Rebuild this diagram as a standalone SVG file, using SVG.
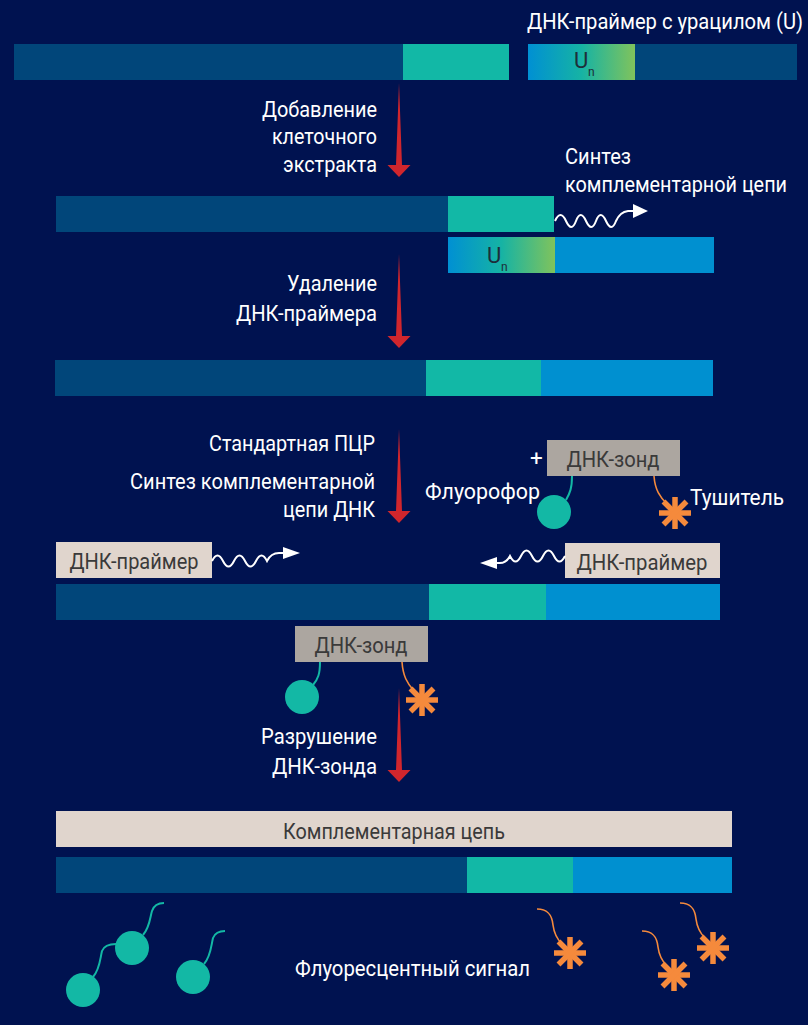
<svg xmlns="http://www.w3.org/2000/svg" width="808" height="1025" viewBox="0 0 808 1025">
<defs>
<style>
.t{font-family:Roboto,"Liberation Sans",sans-serif;font-size:22.5px;fill:#ffffff}
.bt{font-family:Roboto,"Liberation Sans",sans-serif;font-size:22px;fill:#3a3a3a}
.dk{fill:#01467a}
.tl{fill:#12b8a6}
.bl{fill:#0090d0}
.probe{fill:#aca6a0}
.prim{fill:#e0d5cd}
.wave{fill:none;stroke:#ffffff;stroke-width:2}
.ah{fill:#ffffff}
.arrow{fill:#d0262d}
.fl{fill:#13b8a5}
.fline{fill:none;stroke:#13b8a5;stroke-width:2}
.qline{fill:none;stroke:#f58a3c;stroke-width:1.6}
.u{font-family:Roboto,"Liberation Sans",sans-serif;fill:#1d2e3a}
</style>
<linearGradient id="ug" x1="0" y1="0" x2="1" y2="0">
<stop offset="0" stop-color="#0090d3"/>
<stop offset="0.5" stop-color="#16b3a4"/>
<stop offset="1" stop-color="#80c35c"/>
</linearGradient>
<path id="rarrow" d="M0,0 L3,82 L11.5,82 L0,94 L-11.5,82 L-3,82 Z"/>
<g id="ast" stroke="#f58a3c" stroke-width="5.5">
<line x1="0" y1="-16" x2="0" y2="16"/>
<line x1="-16" y1="0" x2="16" y2="0"/>
<line x1="-11.5" y1="-11.5" x2="11.5" y2="11.5"/>
<line x1="-11.5" y1="11.5" x2="11.5" y2="-11.5"/>
</g>
</defs>
<rect x="0" y="0" width="808" height="1025" fill="#001250"/>

<!-- Row 1 -->
<g id="dna1">
<rect class="dk" x="14" y="44" width="389" height="36"/>
<rect class="tl" x="403" y="44" width="106" height="36"/>
</g>
<g id="primerU">
<text class="t" x="0" y="0" transform="translate(527,29) scale(1,1.15)" style="font-size:19.5px" textLength="276" lengthAdjust="spacingAndGlyphs">ДНК-праймер с урацилом (U)</text>
<rect fill="url(#ug)" x="528" y="44" width="107" height="36"/>
<rect class="dk" x="635" y="44" width="162" height="36"/>
<text class="u" x="574" y="68" font-size="22">U</text>
<text class="u" x="588" y="76" font-size="12">n</text>
</g>

<g id="step1">
<use href="#rarrow" class="arrow" x="399" y="83"/>
<text class="t" x="377" y="117" text-anchor="end" textLength="115" lengthAdjust="spacingAndGlyphs">Добавление</text>
<text class="t" x="377" y="143.5" text-anchor="end" textLength="105" lengthAdjust="spacingAndGlyphs">клеточного</text>
<text class="t" x="377" y="171.5" text-anchor="end" textLength="94" lengthAdjust="spacingAndGlyphs">экстракта</text>
</g>

<!-- Row 2 -->
<g id="dna2">
<rect class="dk" x="56" y="196" width="392" height="36"/>
<rect class="tl" x="448" y="196" width="106" height="36"/>
</g>
<g id="synth1">
<text class="t" x="565" y="164" textLength="66" lengthAdjust="spacingAndGlyphs">Синтез</text>
<text class="t" x="0" y="0" transform="translate(565,192) scale(1,1.1)" style="font-size:20.5px" textLength="222" lengthAdjust="spacingAndGlyphs">комплементарной цепи</text>
</g>
<g id="primer2">
<rect fill="url(#ug)" x="448" y="237" width="107" height="36"/>
<rect class="bl" x="555" y="237" width="159" height="36"/>
<text class="u" x="487" y="263" font-size="22">U</text>
<text class="u" x="501" y="271" font-size="12">n</text>
</g>

<g id="step2">
<use href="#rarrow" class="arrow" x="399" y="254"/>
<text class="t" x="377" y="291" text-anchor="end" textLength="90" lengthAdjust="spacingAndGlyphs">Удаление</text>
<text class="t" x="377" y="321" text-anchor="end" textLength="141" lengthAdjust="spacingAndGlyphs">ДНК-праймера</text>
</g>

<!-- Row 3 -->
<g id="dna3">
<rect class="dk" x="55" y="360" width="371" height="36"/>
<rect class="tl" x="426" y="360" width="115" height="36"/>
<rect class="bl" x="541" y="360" width="172" height="36"/>
</g>

<g id="step3">
<use href="#rarrow" class="arrow" x="399" y="429"/>
<text class="t" x="375" y="451" text-anchor="end" textLength="166" lengthAdjust="spacingAndGlyphs">Стандартная ПЦР</text>
<text class="t" x="375" y="489" text-anchor="end" textLength="245" lengthAdjust="spacingAndGlyphs">Синтез комплементарной</text>
<text class="t" x="375" y="517" text-anchor="end" textLength="92" lengthAdjust="spacingAndGlyphs">цепи ДНК</text>
</g>

<g id="probe1">
<text class="t" x="530" y="466">+</text>
<rect class="probe" x="547" y="440" width="133" height="36"/>
<text class="bt" x="613" y="467" text-anchor="middle" textLength="93" lengthAdjust="spacingAndGlyphs">ДНК-зонд</text>
<path class="fline" d="M572,476 C572,488 570,493 566,500"/>
<circle class="fl" cx="554" cy="512" r="17"/>
<path class="qline" d="M654,476 C655,490 660,497 667,504"/>
<use href="#ast" x="675" y="513"/>
<text class="t" x="425" y="499" textLength="115" lengthAdjust="spacingAndGlyphs">Флуорофор</text>
<text class="t" x="690" y="505" textLength="94" lengthAdjust="spacingAndGlyphs">Тушитель</text>
</g>

<!-- Row 4 -->
<g id="primerL">
<rect class="prim" x="56" y="542" width="156" height="36"/>
<text class="bt" x="134" y="569" text-anchor="middle" textLength="129" lengthAdjust="spacingAndGlyphs">ДНК-праймер</text>
</g>
<g id="primerR">
<rect class="prim" x="565" y="543" width="155" height="35"/>
<text class="bt" x="642" y="570" text-anchor="middle" textLength="131" lengthAdjust="spacingAndGlyphs">ДНК-праймер</text>
</g>
<g id="dna4">
<rect class="dk" x="56" y="584" width="373" height="36"/>
<rect class="tl" x="429" y="584" width="117" height="36"/>
<rect class="bl" x="546" y="584" width="174" height="36"/>
</g>

<g id="probe2">
<rect class="probe" x="295" y="626" width="133" height="36"/>
<text class="bt" x="361" y="653" text-anchor="middle" textLength="93" lengthAdjust="spacingAndGlyphs">ДНК-зонд</text>
<path class="fline" d="M320,662 C320,674 318,679 313,685"/>
<circle class="fl" cx="302" cy="697" r="17"/>
</g>

<g id="step4">
<use href="#rarrow" class="arrow" x="399" y="688"/>
<text class="t" x="377" y="744" text-anchor="end" textLength="116" lengthAdjust="spacingAndGlyphs">Разрушение</text>
<text class="t" x="377" y="774" text-anchor="end" textLength="105" lengthAdjust="spacingAndGlyphs">ДНК-зонда</text>
</g>
<g id="quencher2">
<path class="qline" d="M402,662 C403,676 407,683 414,691"/>
<use href="#ast" x="422" y="700"/>
</g>

<!-- Row 5 -->
<g id="compl">
<rect class="prim" x="56" y="811" width="676" height="36"/>
<text class="bt" x="394" y="839" text-anchor="middle" textLength="222" lengthAdjust="spacingAndGlyphs">Комплементарная цепь</text>
</g>
<g id="dna5">
<rect class="dk" x="56" y="857" width="411" height="36"/>
<rect class="tl" x="467" y="857" width="106" height="36"/>
<rect class="bl" x="573" y="857" width="159" height="36"/>
</g>

<g id="signal">
<path class="fline" d="M143,935 C150,927 150,917 152,911 C154,905 158,903 164,903"/>
<circle class="fl" cx="132" cy="948" r="17"/>
<path class="fline" d="M93,977 C100,969 100,959 102,951 C104,946 108,944 116,944"/>
<circle class="fl" cx="83" cy="990" r="17"/>
<path class="fline" d="M204,964 C211,956 211,946 213,938 C215,933 219,931 225,931"/>
<circle class="fl" cx="193" cy="977" r="17"/>
<path class="qline" d="M537,909 C548,909 552,915 553,925 C554,933 556,938 562,944"/>
<use href="#ast" x="570" y="953"/>
<path class="qline" d="M642,931 C653,931 657,937 658,947 C659,955 661,960 667,966"/>
<use href="#ast" x="674" y="975"/>
<path class="qline" d="M680,903 C691,903 695,909 696,919 C697,927 699,932 705,938"/>
<use href="#ast" x="713" y="948"/>
<text class="t" x="295" y="976" textLength="235" lengthAdjust="spacingAndGlyphs">Флуоресцентный сигнал</text>
</g>

<!-- connectors -->
<g id="connectors">
<path class="wave" d="M555,221 q5.5,-12 11,0 t10,0 t10,0 t10,0 t10,0 t10,0 q4,-9 12,-10 L634,211"/>
<path class="ah" d="M648,211 L633,204 L633,218 Z"/>
<path class="wave" d="M212,561 q5.5,-11 11,0 t11,0 t11,0 t11,0 t11,0 q4,-8 12,-8 L285,553"/>
<path class="ah" d="M300,553 L283,547 L283,559 Z"/>
<path class="wave" d="M565,556 q-5.5,11 -11,0 t-11,0 t-11,0 t-11,0 t-11,0 q-4,8 -12,7 L495,563"/>
<path class="ah" d="M480,563 L497,557 L497,569 Z"/>
</g>
</svg>
